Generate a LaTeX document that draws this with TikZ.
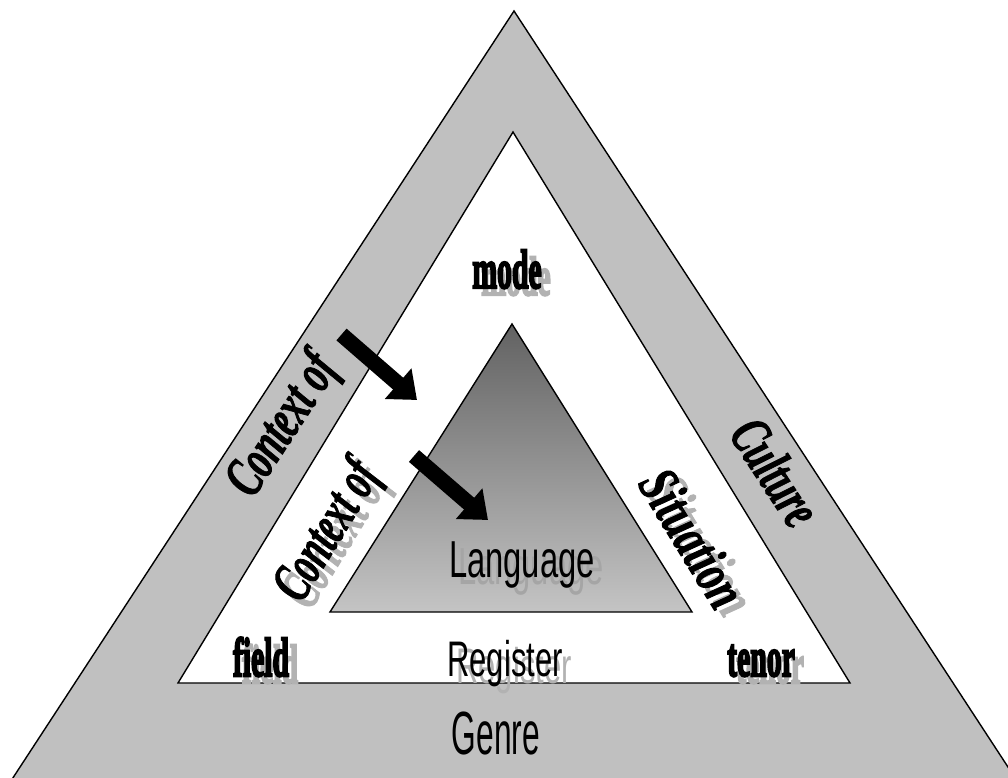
\documentclass[tikz,border=0pt]{standalone}
\usepackage{fontspec}
\usetikzlibrary{arrows.meta}
\setmainfont{Liberation Serif}
\newfontfamily\sansfam{Liberation Sans}
\newfontfamily\heavyfam{Liberation Serif}[BoldFeatures={FakeBold=4.5}]
\newfontfamily\ctxfam{Liberation Serif}[BoldItalicFeatures={FakeBold=2}]
\definecolor{bandgray}{RGB}{192,192,192}
\definecolor{shadegray}{RGB}{178,178,178}
\definecolor{langshade}{RGB}{165,165,165}
\definecolor{topgray}{RGB}{98,98,98}
\definecolor{lowgray}{RGB}{196,196,196}

\begin{document}
\begin{tikzpicture}[x=1pt, y=-1pt,
    edge/.style={draw=black, line width=1.4pt, line join=miter},
    blk/.style={line width=15.5pt, -{Triangle[length=25pt, width=39pt]}},
    sans/.style={font=\sansfam\fontsize{#1}{#1}\selectfont, inner sep=0pt},
    heavy/.style={font=\heavyfam\bfseries\fontsize{55}{55}\selectfont,
                  inner sep=0pt, xscale=0.54},
    ctx/.style={font=\ctxfam\bfseries\itshape\fontsize{57}{57}\selectfont,
                inner sep=0pt, xscale=#1},
    shdw/.style={xshift=9pt, yshift=-7pt, text=#1},
    shdw/.default=shadegray]
  \useasboundingbox (0,0) rectangle (1008,778);
  \clip (0,0) rectangle (1008,778);

  % ---------- triangles -----------------------------------------------------
  \path[edge, fill=bandgray] (514,11) -- (1023,790) -- (5,790) -- cycle;
  \path[edge, fill=white] (513,132) -- (850,683) -- (178,683) -- cycle;
  \path[edge, top color=topgray, bottom color=lowgray]
    (512,324) -- (692,612) -- (330,612) -- cycle;

  % ---------- outer band ----------------------------------------------------
  \node[rotate=56.8, ctx=0.64] (ctxOut) at (284,426) {Context of};
  \node[rotate=-56.8, ctx=0.64] (culture) at (776,472) {Culture};
  \node[sans=61, anchor=base, xscale=0.52] (genre) at (496,754) {Genre};

  % ---------- context of situation ------------------------------------------
  \node[shdw, rotate=58.6, ctx=0.62] (ctxInS) at (329,532) {Context of};
  \node[rotate=58.6, ctx=0.62] (ctxIn) at (329,532) {Context of};
  \node[shdw, rotate=-58.5, ctx=0.7] (situS) at (693,538) {Situation};
  \node[rotate=-58.5, ctx=0.7] (situ) at (693,538) {Situation};
  \foreach \nm/\x/\y/\txt in {mode/507/288/mode, field/261/676/field, tenor/761/676/tenor} {
    \node[shdw, heavy, anchor=base] (\nm S) at (\x,\y) {\txt};
    \node[heavy, anchor=base] (\nm) at (\x,\y) {\txt}; }
  \node[shdw, sans=50, anchor=base, xscale=0.62] (registerS) at (505,676) {Register};
  \node[sans=50, anchor=base, xscale=0.62] (register) at (505,676) {Register};

  % ---------- language ------------------------------------------------------
  \node[shdw=langshade, sans=52, anchor=base, xscale=0.63] (languageS) at (522,577) {Language};
  \node[sans=52, anchor=base, xscale=0.63] (language) at (522,577) {Language};

  % ---------- arrows --------------------------------------------------------
  \coordinate (arrA) at (341.5,334.5);  \coordinate (arrAtip) at (417,400);
  \coordinate (arrB) at (414,456);      \coordinate (arrBtip) at (488,520);
  \draw[blk] (arrA) -- (arrAtip);
  \draw[blk] (arrB) -- (arrBtip);
\end{tikzpicture}
\end{document}
